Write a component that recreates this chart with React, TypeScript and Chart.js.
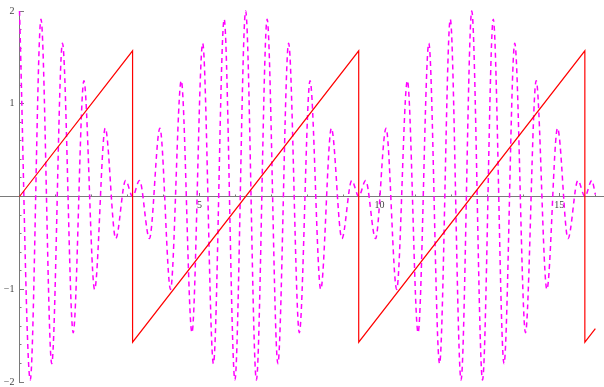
import React, { useEffect, useRef } from "react";
import { Chart, registerables } from "chart.js";

Chart.register(...registerables);

// Magenta dashed wave: extrema (x, y)
const waveX = [
  0, 0.2985, 0.597, 0.8954, 1.1937, 1.4918, 1.7895, 2.0866, 2.3823, 2.6737, 2.9485, 3.1416,
  3.3347, 3.6095, 3.9009, 4.1966, 4.4937, 4.7914, 5.0895, 5.3878, 5.6862, 5.9847, 6.2832,
  6.5817, 6.8802, 7.1786, 7.4769, 7.775, 8.0727, 8.3698, 8.6655, 8.9569, 9.2317, 9.4248,
  9.6179, 9.8927, 10.1841, 10.4798, 10.7769, 11.0746, 11.3727, 11.671, 11.9694, 12.2679, 12.5664,
  12.8649, 13.1634, 13.4618, 13.7601, 14.0582, 14.3559, 14.653, 14.9487, 15.2401, 15.5149, 15.708,
  15.9011, 16.0,
];
const waveY = [
  2, -1.978, 1.912, -1.802, 1.653, -1.468, 1.249, -1.002, 0.737, -0.454, 0.173, 0,
  0.173, -0.454, 0.737, -1.002, 1.249, -1.468, 1.653, -1.802, 1.912, -1.978, 2,
  -1.978, 1.912, -1.802, 1.653, -1.468, 1.249, -1.002, 0.737, -0.454, 0.173, 0,
  0.173, -0.454, 0.737, -1.002, 1.249, -1.468, 1.653, -1.802, 1.912, -1.978, 2,
  -1.978, 1.912, -1.802, 1.653, -1.468, 1.249, -1.002, 0.737, -0.454, 0.173, 0,
  0.173, 0.022,
];

// Red sawtooth corner points
const sawX = [0, 3.1416, 3.1416, 9.4248, 9.4248, 15.708, 15.708, 16.0];
const sawY = [0, 1.5708, -1.5708, 1.5708, -1.5708, 1.5708, -1.5708, -1.4248];

// Ticks
const xMinorTicks = [1, 2, 3, 4, 5, 6, 7, 8, 9, 10, 11, 12, 13, 14, 15, 16];
const xMajorTicks = [5, 10, 15];
const yMinorTicks = [-2, -1.8, -1.6, -1.4, -1.2, -1, -0.8, -0.6, -0.4, -0.2, 0.2, 0.4, 0.6, 0.8, 1, 1.2, 1.4, 1.6, 1.8, 2];
const yMajorTicks = [-2, -1, 1, 2];

const X_MIN = -0.542;
const X_MAX = 16.24;
const Y_MIN = -2;
const Y_MAX = 2;

const AXIS_COLOR = "#7a7a7a";
const LABEL_COLOR = "#444444";
const FONT = { family: "'Liberation Serif', 'DejaVu Serif', serif", size: 10, lineHeight: 1 };

const fmt = (v: number) => (v < 0 ? "\u2212" + Math.abs(v) : String(v));

export default function App() {
  const ref = useRef<HTMLCanvasElement | null>(null);

  useEffect(() => {
    if (!ref.current) return;
    const setTicks = (vals: number[]) => (axis: any) => {
      axis.ticks = vals.map((v) => ({ value: v }));
    };
    const chart = new Chart(ref.current, {
      type: "line",
      data: {
        datasets: [
          {
            data: sawX.map((x, i) => ({ x, y: sawY[i] })),
            borderColor: "#ff0000",
            borderWidth: 1.2,
            pointRadius: 0,
            tension: 0,
            fill: false,
            clip: false as any,
          },
          {
            data: waveX.map((x, i) => ({ x, y: waveY[i] })),
            borderColor: "#ff00ff",
            borderWidth: 1.5,
            borderDash: [5, 4],
            pointRadius: 0,
            cubicInterpolationMode: "monotone",
            fill: false,
            clip: false as any,
          },
        ],
      },
      options: {
        animation: false,
        responsive: false,
        layout: { padding: { left: 0, right: 0, top: 11, bottom: 5 } },
        plugins: { legend: { display: false }, tooltip: { enabled: false } },
        scales: {
          x: {
            type: "linear",
            axis: "x",
            position: { y: 0 } as any,
            min: X_MIN,
            max: X_MAX,
            afterBuildTicks: setTicks(xMinorTicks),
            grid: { display: true, drawOnChartArea: false, drawTicks: true, tickLength: -2.5, color: AXIS_COLOR, lineWidth: 1 },
            border: { display: true, color: AXIS_COLOR, width: 1 },
            ticks: { display: false },
          },
          x2: {
            type: "linear",
            axis: "x",
            position: { y: 0 } as any,
            min: X_MIN,
            max: X_MAX,
            afterBuildTicks: setTicks(xMajorTicks),
            grid: { display: true, drawOnChartArea: false, drawTicks: true, tickLength: -4, color: AXIS_COLOR, lineWidth: 1 },
            border: { display: false },
            ticks: { display: true, color: LABEL_COLOR, font: FONT as any, padding: 8, maxRotation: 0, autoSkip: false, callback: (v: any) => fmt(Number(v)) },
          },
          y: {
            type: "linear",
            axis: "y",
            position: { x: 0 } as any,
            min: Y_MIN,
            max: Y_MAX,
            afterBuildTicks: setTicks(yMinorTicks),
            grid: { display: true, drawOnChartArea: false, drawTicks: true, tickLength: -2.5, color: AXIS_COLOR, lineWidth: 1 },
            border: { display: true, color: AXIS_COLOR, width: 1 },
            ticks: { display: false },
          },
          y2: {
            type: "linear",
            axis: "y",
            position: { x: 0 } as any,
            min: Y_MIN,
            max: Y_MAX,
            afterBuildTicks: setTicks(yMajorTicks),
            grid: { display: true, drawOnChartArea: false, drawTicks: true, tickLength: -4, color: AXIS_COLOR, lineWidth: 1 },
            border: { display: false },
            ticks: { display: false },
          },
          y3: {
            type: "linear",
            axis: "y",
            position: { x: -0.139 } as any,
            min: Y_MIN,
            max: Y_MAX,
            afterBuildTicks: setTicks(yMajorTicks),
            grid: { display: false, drawTicks: false },
            border: { display: false },
            ticks: { display: true, color: LABEL_COLOR, font: FONT as any, padding: 0, autoSkip: false, callback: (v: any) => fmt(Number(v)) },
          },
        },
      } as any,
    });
    return () => chart.destroy();
  }, []);

  return (
    <div style={{ position: "absolute", left: 0, top: 0, width: 604, height: 387, background: "#ffffff" }}>
      <canvas ref={ref} width={604} height={387} style={{ display: "block", width: 604, height: 387 }} />
    </div>
  );
}
